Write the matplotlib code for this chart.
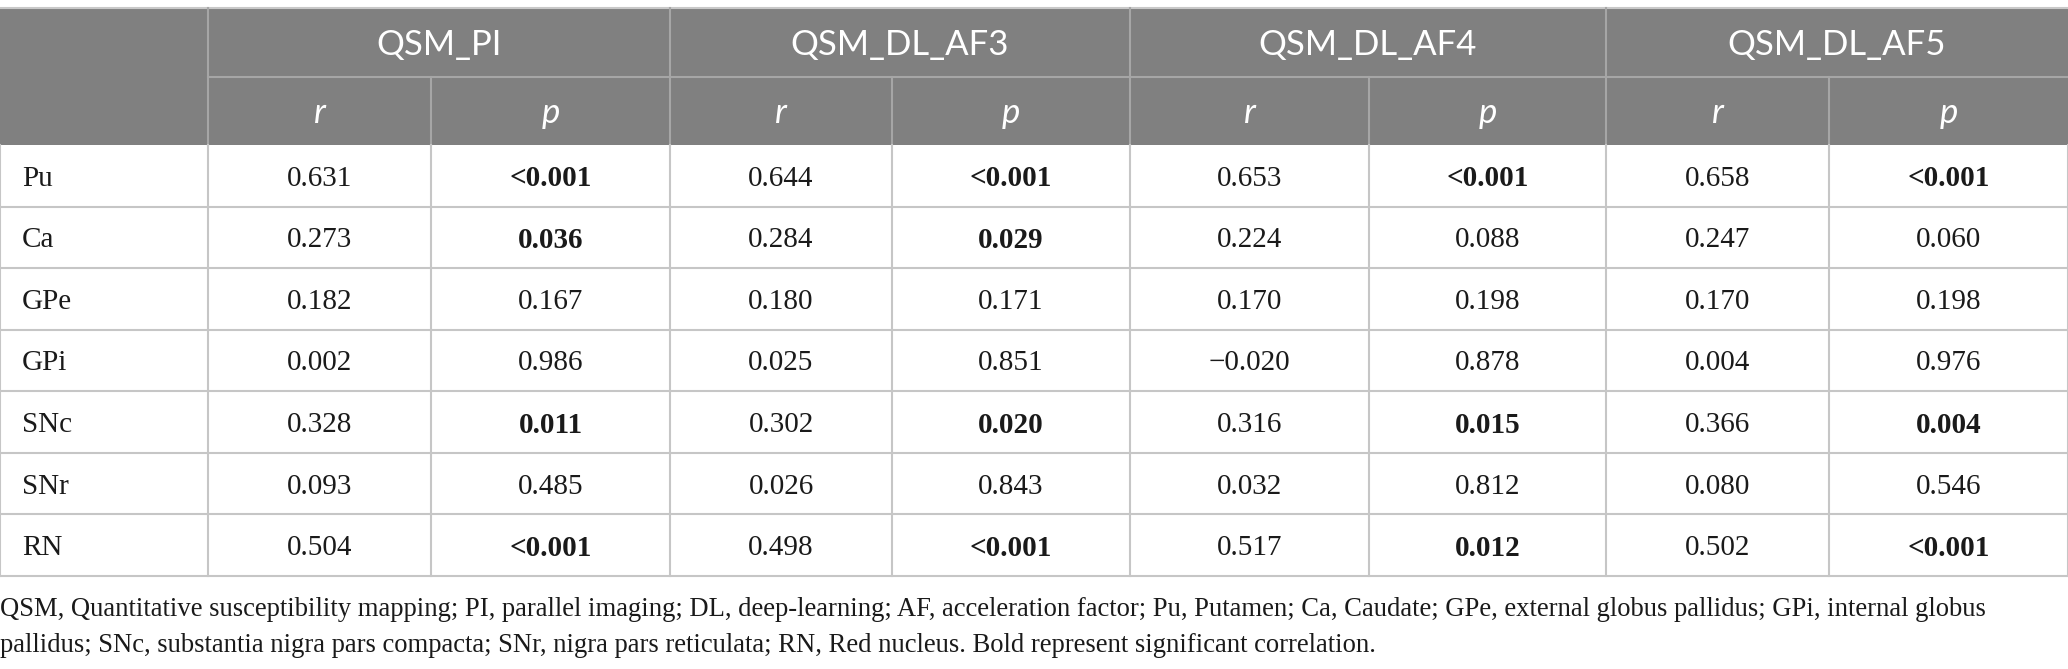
import matplotlib
matplotlib.use("Agg")
import matplotlib.pyplot as plt
from matplotlib.patches import Rectangle

# Data
regions = ["Pu", "Ca", "GPe", "GPi", "SNc", "SNr", "RN"]
methods = ["QSM_PI", "QSM_DL_AF3", "QSM_DL_AF4", "QSM_DL_AF5"]
r_pi = [0.631, 0.273, 0.182, 0.002, 0.328, 0.093, 0.504]
p_pi = ["<0.001", "0.036", "0.167", "0.986", "0.011", "0.485", "<0.001"]
r_af3 = [0.644, 0.284, 0.180, 0.025, 0.302, 0.026, 0.498]
p_af3 = ["<0.001", "0.029", "0.171", "0.851", "0.020", "0.843", "<0.001"]
r_af4 = [0.653, 0.224, 0.170, -0.020, 0.316, 0.032, 0.517]
p_af4 = ["<0.001", "0.088", "0.198", "0.878", "0.015", "0.812", "0.012"]
r_af5 = [0.658, 0.247, 0.170, 0.004, 0.366, 0.080, 0.502]
p_af5 = ["<0.001", "0.060", "0.198", "0.976", "0.004", "0.546", "<0.001"]
footnote = ["QSM, Quantitative susceptibility mapping; PI, parallel imaging; DL, deep-learning; "
            "AF, acceleration factor; Pu, Putamen; Ca, Caudate; GPe, external globus pallidus; GPi, internal globus",
            "pallidus; SNc, substantia nigra pars compacta; SNr, nigra pars reticulata; RN, Red nucleus. "
            "Bold represent significant correlation."]

r_cols = [r_pi, r_af3, r_af4, r_af5]
p_cols = [p_pi, p_af3, p_af4, p_af5]

# Layout (pixels)
W, H = 2068, 669
col_x = [0, 208, 431, 670, 892, 1130, 1369, 1606, 1829, 2068]
top, h1, h2 = 8, 77, 145
row_h = (576 - h2) / len(regions)
head_bg = "#808080"
head_line = "#a6a6a6"
body_line = "#c6c6c6"
ink = "#1a1a1a"
serif = "Liberation Serif"
sans = "Lato"

fig = plt.figure(figsize=(W / 100, H / 100), dpi=100)
ax = fig.add_axes([0, 0, 1, 1])
ax.set_xlim(0, W)
ax.set_ylim(H, 0)
ax.axis("off")

# header background
ax.add_patch(Rectangle((0, top), W, h2 - top, facecolor=head_bg, edgecolor="none"))
ax.plot([0, W], [top, top], color="#c8c8c8", lw=1.5)
ax.plot([col_x[1], W], [h1, h1], color=head_line, lw=1.5)
for i, x in enumerate(col_x[1:-1], start=1):
    y0 = top if i % 2 == 1 else h1
    ax.plot([x, x], [y0, h2], color=head_line, lw=1.5)

for k, m in enumerate(methods):
    xa, xb = col_x[1 + 2 * k], col_x[3 + 2 * k]
    ax.text((xa + xb) / 2, (top + h1) / 2 + 3, m, ha="center", va="center",
            color="white", fontsize=25, family=sans)
    for j, lab in enumerate(["r", "p"]):
        xc = (col_x[1 + 2 * k + j] + col_x[2 + 2 * k + j]) / 2
        ax.text(xc, (h1 + h2) / 2 + 2, lab, ha="center", va="center", color="white",
                fontsize=25, family=sans, style="italic")

# body
for i, reg in enumerate(regions):
    yc = h2 + (i + 0.5) * row_h + 3
    ax.text(22, yc, reg, ha="left", va="center", fontsize=21, family=serif, color=ink)
    for k in range(4):
        rv = r_cols[k][i]
        rs = f"{rv:.3f}".replace("-", "\u2212")
        xc = (col_x[1 + 2 * k] + col_x[2 + 2 * k]) / 2
        ax.text(xc, yc, rs, ha="center", va="center", fontsize=21, family=serif, color=ink)
        ps = p_cols[k][i]
        sig = ps.startswith("<") or float(ps) < 0.05
        xc = (col_x[2 + 2 * k] + col_x[3 + 2 * k]) / 2
        ax.text(xc, yc, ps, ha="center", va="center", fontsize=21, family=serif,
                color=ink, weight="bold" if sig else "normal")
    ax.plot([0, W], [h2 + (i + 1) * row_h] * 2, color=body_line, lw=1.5)

for x in col_x:
    ax.plot([x, x], [h2, 576], color=body_line, lw=1.5)

# footnote, scaled to fill the first line width
t1 = ax.text(0, 609, footnote[0], ha="left", va="center", fontsize=18, family=serif, color=ink)
fig.canvas.draw()
bb = t1.get_window_extent()
fs = 18 * 1994 / bb.width
t1.set_fontsize(fs)
ax.text(0, 645, footnote[1], ha="left", va="center", fontsize=fs, family=serif, color=ink)

fig.savefig("out.png", dpi=100)
